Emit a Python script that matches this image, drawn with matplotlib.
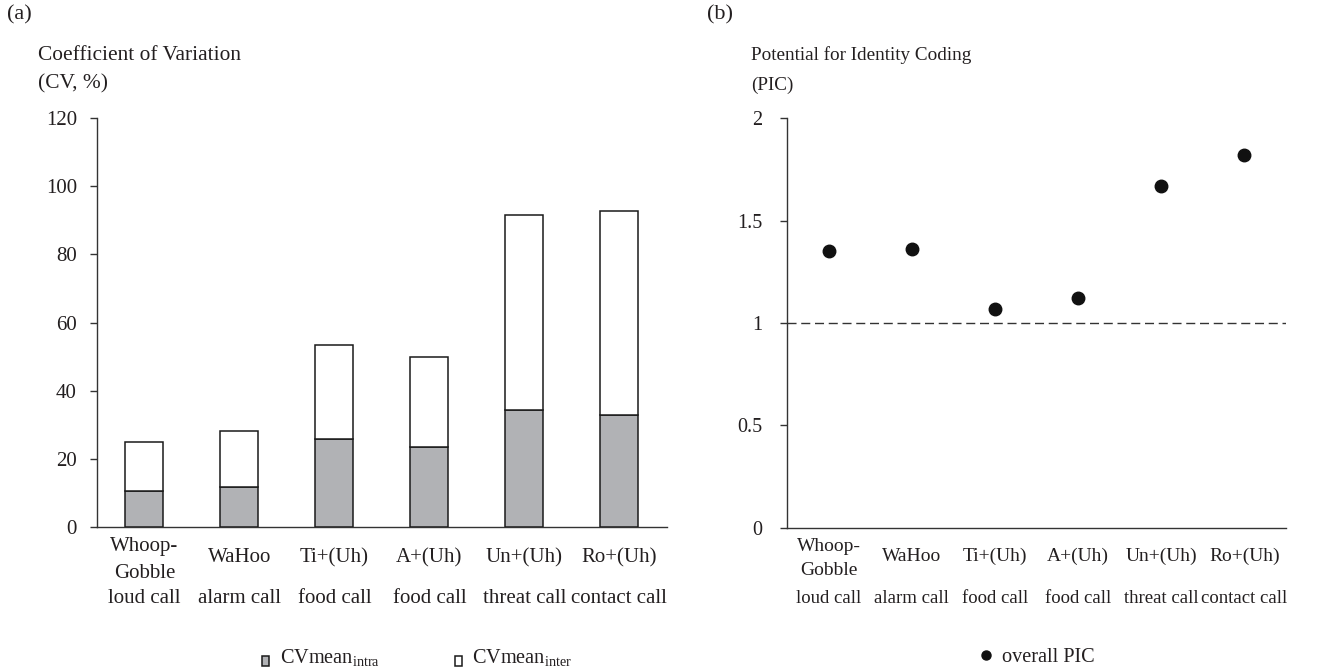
import matplotlib
matplotlib.use("Agg")
import matplotlib.pyplot as plt
from matplotlib.lines import Line2D
import numpy as np

# ---- data ----
call_names = ["Whoop-\nGobble", "WaHoo", "Ti+(Uh)", "A+(Uh)", "Un+(Uh)", "Ro+(Uh)"]
call_types = ["loud call", "alarm call", "food call", "food call", "threat call", "contact call"]
cv_intra = [10.6, 11.8, 25.8, 23.5, 34.4, 32.9]
cv_inter = [14.4, 16.4, 27.6, 26.4, 57.1, 59.8]
pic = [1.35, 1.36, 1.07, 1.12, 1.67, 1.82]
cv_ticks = [0, 20, 40, 60, 80, 100, 120]
pic_ticks = [0, 0.5, 1, 1.5, 2]
pic_tick_labels = ["0", "0.5", "1", "1.5", "2"]

plt.rcParams['font.family'] = ['Liberation Serif', 'DejaVu Serif']
plt.rcParams['mathtext.fontset'] = 'custom'
plt.rcParams['mathtext.rm'] = 'Liberation Serif'
plt.rcParams['mathtext.it'] = 'Liberation Serif'

TXT = '#231f20'
AX = '#333333'
GRAY = '#b1b2b5'

W, H = 1328, 670
fig = plt.figure(figsize=(W / 100, H / 100), dpi=100)

def px_rect(x0, y0, x1, y1):
    return [x0 / W, 1 - y1 / H, (x1 - x0) / W, (y1 - y0) / H]

axL = fig.add_axes(px_rect(97, 118.3, 666.7, 526.7))
axR = fig.add_axes(px_rect(787.3, 118.3, 1285.8, 527.7))

x = np.arange(len(call_names))

# ---- left panel: stacked bars ----
b1 = axL.bar(x, cv_intra, width=0.4, color=GRAY, edgecolor='#1a1a1a', linewidth=1.1,
             label=r'CVmean$_{\mathrm{intra}}$', zorder=3)
b2 = axL.bar(x, cv_inter, width=0.4, bottom=cv_intra, color='white', edgecolor='#1a1a1a',
             linewidth=1.1, label=r'CVmean$_{\mathrm{inter}}$', zorder=3)
axL.set_xlim(-0.5, len(call_names) - 0.5)
axL.set_ylim(0, 120)
axL.set_yticks(cv_ticks)
axL.set_yticklabels([str(t) for t in cv_ticks])

# ---- right panel: dots ----
axR.plot(x, pic, linestyle='none', marker='o', markersize=9, color='#111111',
         label='overall PIC', zorder=3)
axR.axhline(1, color='#333333', linewidth=1.0, linestyle=(0, (6.5, 3.4)), zorder=2)
axR.set_xlim(-0.5, len(call_names) - 0.5)
axR.set_ylim(0, 2)
axR.set_yticks(pic_ticks)
axR.set_yticklabels(pic_tick_labels)

for ax, pad, fs in ((axL, 9.5, 15), (axR, 13, 14.5)):
    for s in ('top', 'right'):
        ax.spines[s].set_visible(False)
    for s in ('left', 'bottom'):
        ax.spines[s].set_color(AX)
        ax.spines[s].set_linewidth(1.0)
    ax.set_xticks([])
    ax.tick_params(axis='y', direction='out', length=5, width=1.0, color=AX,
                   pad=pad, labelsize=fs, labelcolor=TXT)

# category labels
def cat_labels(ax, offs, fs, fs2):
    tr = ax.get_xaxis_transform()
    for i, (n, t) in enumerate(zip(call_names, call_types)):
        off = offs[0] if '\n' in n else offs[1]
        ax.annotate(n, xy=(i, 0), xycoords=tr, xytext=(0, -off), textcoords='offset pixels',
                    ha='center', va='center', fontsize=fs, color=TXT, linespacing=1.55,
                    annotation_clip=False)
        ax.annotate(t, xy=(i, 0), xycoords=tr, xytext=(0, -offs[2]), textcoords='offset pixels',
                    ha='center', va='center', fontsize=fs2, color=TXT, annotation_clip=False)

cat_labels(axL, (33, 31, 72), 15, 15)
cat_labels(axR, (31, 29, 70.5), 14, 13.5)

# titles
fig.text(7 / W, 1 - 15 / H, '(a)', fontsize=16, color=TXT, ha='left', va='center')
fig.text(707 / W, 1 - 15 / H, '(b)', fontsize=16, color=TXT, ha='left', va='center')
fig.text(37.7 / W, 1 - 55 / H, 'Coefficient of Variation', fontsize=15.4, color=TXT, ha='left', va='center')
fig.text(37.7 / W, 1 - 84 / H, '(CV, %)', fontsize=15.4, color=TXT, ha='left', va='center')
fig.text(750.7 / W, 1 - 55 / H, 'Potential for Identity Coding', fontsize=13.8, color=TXT, ha='left', va='center')
fig.text(750.7 / W, 1 - 85 / H, '(PIC)', fontsize=13.8, color=TXT, ha='left', va='center')

# legends
legL = fig.legend(handles=[b1, b2], loc='center left', bbox_to_anchor=(252 / W, 1 - 657 / H),
                  ncol=2, frameon=False, fontsize=14.6, handlelength=0.36, handleheight=0.36,
                  handletextpad=0.5, columnspacing=3.7, borderpad=0, labelcolor=TXT)
for h in legL.legend_handles:
    h.set_y(h.get_y() - 4)
legR = fig.legend(handles=[Line2D([], [], linestyle='none', marker='o', markersize=6.5,
                                  color='#111111')],
                  labels=['overall PIC'], loc='center left', bbox_to_anchor=(968 / W, 1 - 657 / H),
                  frameon=False, fontsize=14.6, handlelength=0.8, handletextpad=0.4,
                  borderpad=0, labelcolor=TXT, numpoints=1)

fig.savefig('out.png', dpi=100, facecolor='white')
